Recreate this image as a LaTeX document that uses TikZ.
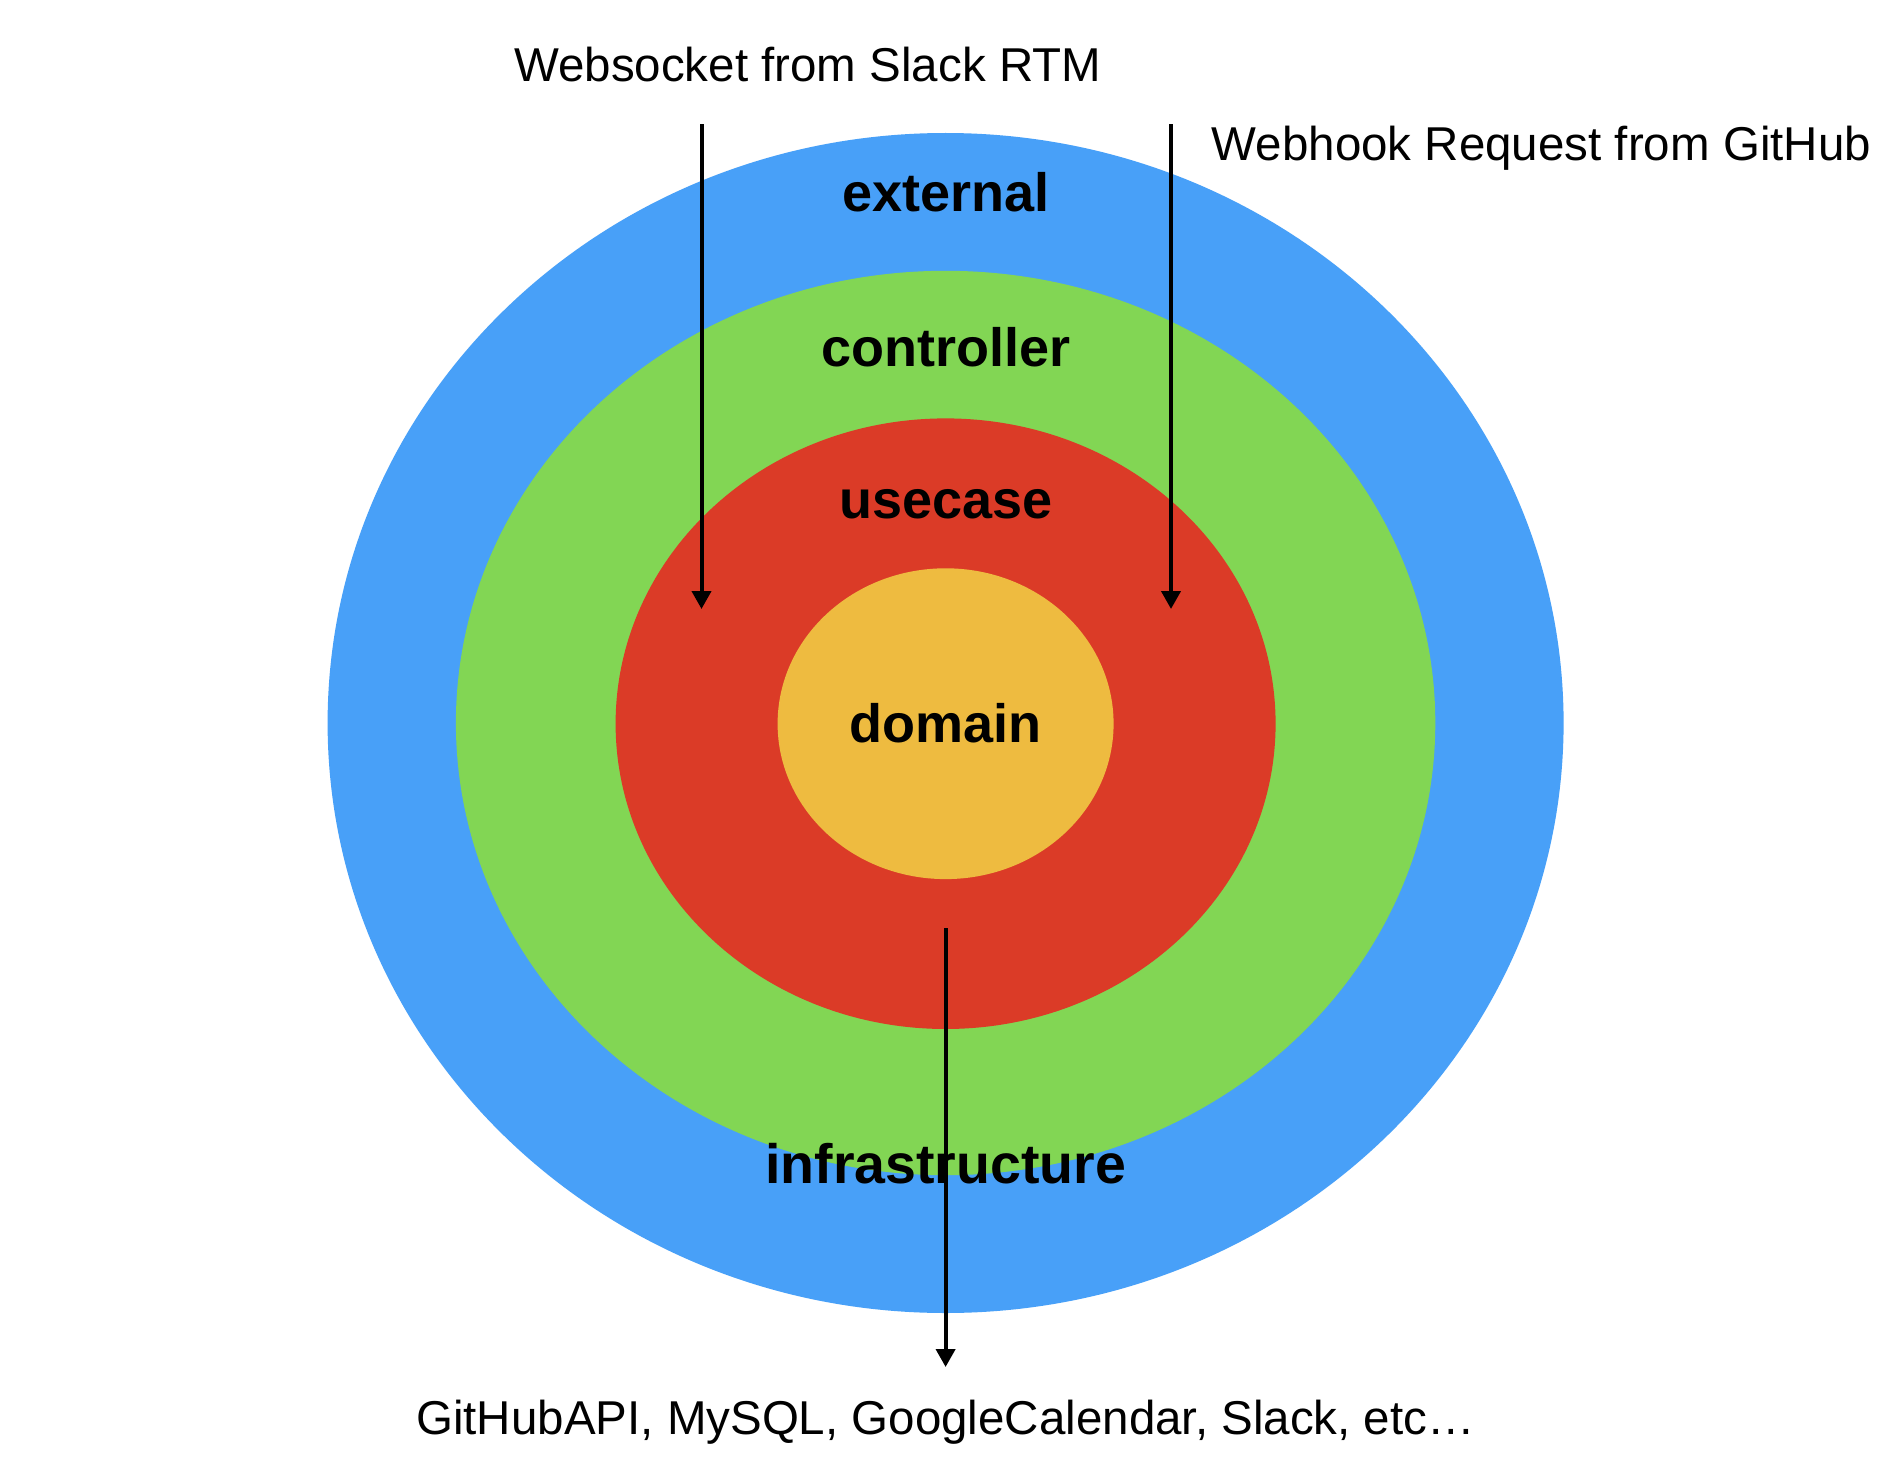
\documentclass[tikz,border=0pt]{standalone}
\usepackage{fontspec}
\setmainfont{Liberation Sans}
\usetikzlibrary{arrows.meta}
\definecolor{extblue}{RGB}{72,160,248}
\definecolor{ctrlgreen}{RGB}{130,214,84}
\definecolor{usered}{RGB}{219,59,39}
\definecolor{domyellow}{RGB}{238,187,64}
\begin{document}
\begin{tikzpicture}[x=1pt,y=-1pt,
  layer/.style={font=\fontsize{54}{60}\selectfont\bfseries, anchor=base, inner sep=0pt},
  note/.style={font=\fontsize{47.5}{54}\selectfont, anchor=base, inner sep=0pt},
  flow/.style={line width=4pt, -{Triangle[width=19pt,length=18pt]}}]
\useasboundingbox[fill=white] (0,0) rectangle (1896,1466);
\fill[extblue] (945.6,723) ellipse [x radius=618, y radius=590];
\fill[ctrlgreen] (945.6,723) ellipse [x radius=489.7, y radius=452.2];
\fill[usered] (945.6,723.7) ellipse [x radius=330, y radius=305.3];
\fill[domyellow] (945.6,723.7) ellipse [x radius=168, y radius=155.4];
\node[layer] (external) at (945.6,212) {external};
\node[layer] (controller) at (945.6,366) {controller};
\node[layer] (usecase) at (945.6,518) {usecase};
\node[layer] (domain) at (945.6,742.5) {domain};
\node[layer, font=\fontsize{55.5}{60}\selectfont\bfseries] (infra) at (945.6,1183.5) {infrastructure};
\node[note] (slack) at (807.7,81.7) {Websocket from Slack RTM};
\node[note, anchor=base west] (github) at (1211.6,160.5) {Webhook Request from GitHub};
\node[note] (apis) at (945.6,1434) {GitHubAPI, MySQL, GoogleCalendar, Slack, etc…};
\coordinate (slackin) at (701.5,124.5);
\coordinate (slackout) at (701.5,609);
\coordinate (hookin) at (1171,124.5);
\coordinate (hookout) at (1171,609);
\coordinate (infrain) at (945.6,928);
\coordinate (infraout) at (945.6,1367);
\draw[flow] (slackin) -- (slackout);
\draw[flow] (hookin) -- (hookout);
\draw[flow] (infrain) -- (infraout);
\end{tikzpicture}
\end{document}
